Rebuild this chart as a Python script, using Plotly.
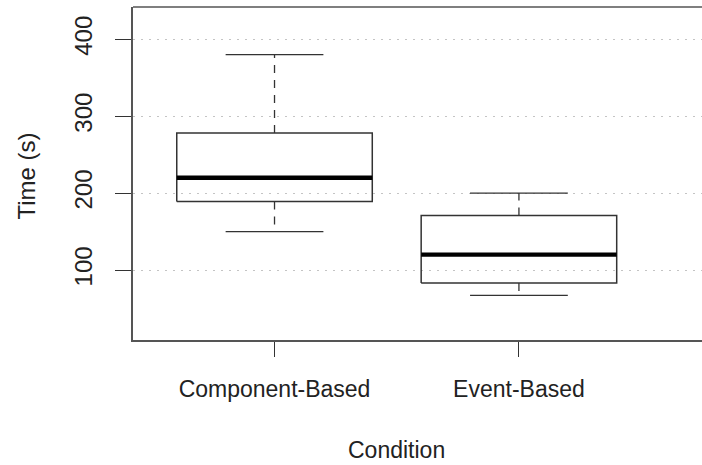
import plotly.graph_objects as go

# ---- data ----
categories = ["Component-Based", "Event-Based"]
lower_whisker = [150, 67]
q1 = [189, 83]
median = [220, 120]
q3 = [278, 171]
upper_whisker = [380, 200]
y_ticks = [100, 200, 300, 400]

BOX_HALF = 0.4
CAP_HALF = 0.2
FONT = "Liberation Sans, Arial, Helvetica, sans-serif"
INK = "#333333"
TEXT = "#222222"

pos = list(range(1, len(categories) + 1))

box_x, box_y = [], []
med_x, med_y = [], []
wh_x, wh_y = [], []
cap_x, cap_y = [], []
for c, lo, a, m, b, hi in zip(pos, lower_whisker, q1, median, q3, upper_whisker):
    box_x += [c - BOX_HALF, c + BOX_HALF, c + BOX_HALF, c - BOX_HALF, c - BOX_HALF, None]
    box_y += [a, a, b, b, a, None]
    med_x += [c - BOX_HALF, c + BOX_HALF, None]
    med_y += [m, m, None]
    wh_x += [c, c, None, c, c, None]
    wh_y += [b, hi, None, a, lo, None]
    cap_x += [c - CAP_HALF, c + CAP_HALF, None, c - CAP_HALF, c + CAP_HALF, None]
    cap_y += [hi, hi, None, lo, lo, None]

fig = go.Figure()
fig.add_trace(go.Scatter(x=wh_x, y=wh_y, mode="lines",
                         line=dict(color=INK, width=1.3, dash="8px,7px"), hoverinfo="skip"))
fig.add_trace(go.Scatter(x=cap_x, y=cap_y, mode="lines",
                         line=dict(color=INK, width=1.3), hoverinfo="skip"))
fig.add_trace(go.Scatter(x=box_x, y=box_y, mode="lines",
                         line=dict(color=INK, width=1.5), hoverinfo="skip"))
fig.add_trace(go.Scatter(x=med_x, y=med_y, mode="lines",
                         line=dict(color="#000000", width=4.3), hoverinfo="skip"))

fig.update_layout(
    width=702, height=465,
    margin=dict(l=133, r=0, t=7, b=125),
    plot_bgcolor="white", paper_bgcolor="white",
    showlegend=False,
    font=dict(family=FONT, color=TEXT),
    xaxis=dict(
        range=[0.421, 2.749],
        tickvals=pos, ticktext=categories,
        ticks="outside", ticklen=15, tickwidth=1.3, tickcolor=INK,
        showline=True, linecolor="#555555", linewidth=1.5,
        showgrid=False, zeroline=False,
        ticklabelstandoff=13,
        tickfont=dict(size=23, family=FONT, color=TEXT),
    ),
    yaxis=dict(
        range=[9, 442],
        tickvals=y_ticks, ticktext=[str(v) for v in y_ticks],
        tickangle=-90,
        ticks="outside", ticklen=16, tickwidth=1.3, tickcolor=INK,
        showline=True, linecolor="#555555", linewidth=1.5,
        showgrid=True, gridcolor="#c4c4c4", gridwidth=1, griddash="2px,6px",
        zeroline=False,
        ticklabelstandoff=14,
        tickfont=dict(size=24, family=FONT, color=TEXT),
    ),
    shapes=[dict(type="line", xref="paper", yref="paper", x0=0, x1=1, y0=1, y1=1,
                 line=dict(color="#555555", width=1.5))],
    annotations=[
        dict(text="Time (s)", xref="paper", yref="paper", x=0, y=0.5,
             xshift=-107, yshift=-3, textangle=-90, showarrow=False,
             xanchor="center", yanchor="middle",
             font=dict(size=24, family=FONT, color=TEXT)),
        dict(text="Condition", xref="paper", yref="paper", x=0, y=0,
             xshift=263.5, yshift=-110, showarrow=False,
             xanchor="center", yanchor="middle",
             font=dict(size=23, family=FONT, color=TEXT)),
    ],
)

fig.write_html("out.html",
               config={"displayModeBar": False},
               post_script="document.body.style.margin='0';document.body.style.padding='0';")
